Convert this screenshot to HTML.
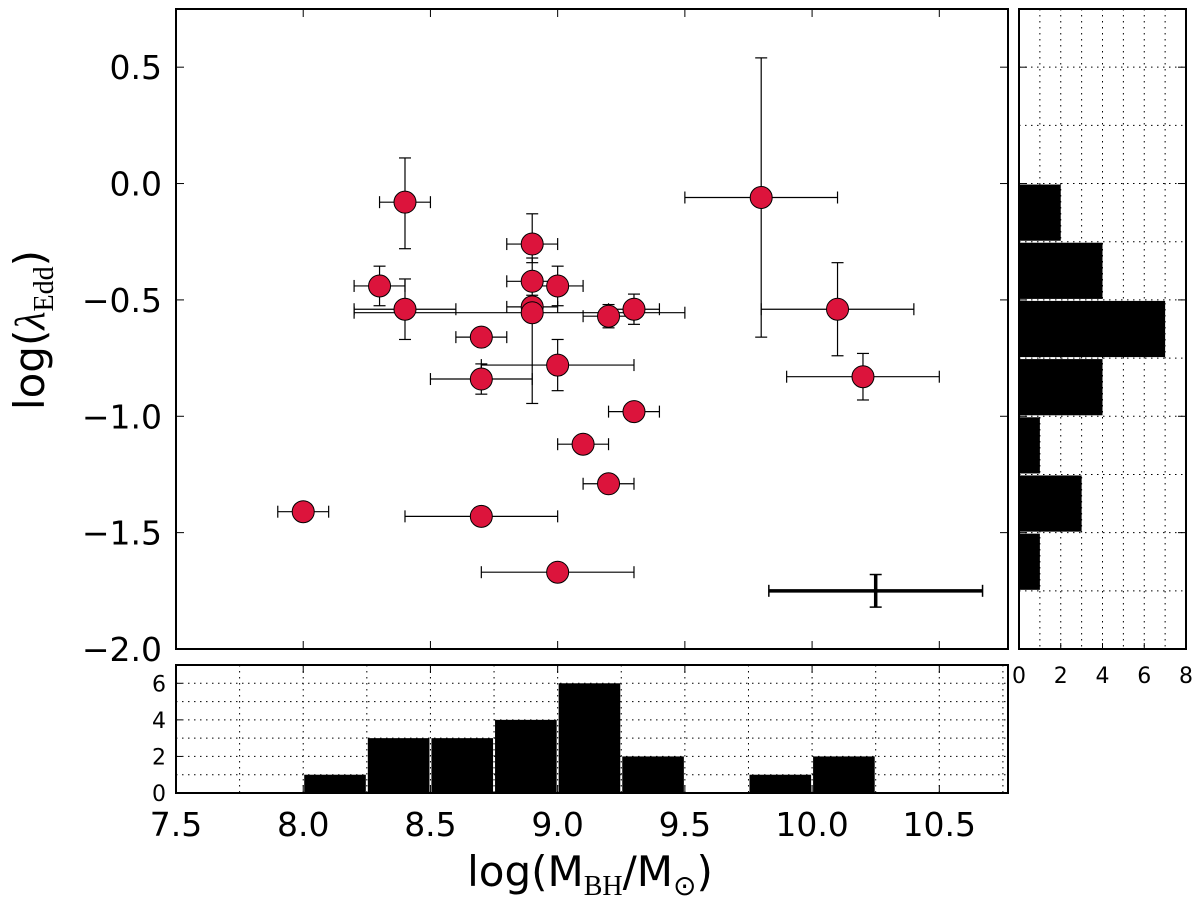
<!DOCTYPE html>
<html><head><meta charset="utf-8"><style>
body{margin:0;background:#fff;}
svg{display:block;font-family:"DejaVu Sans","Liberation Sans",sans-serif;}
</style></head><body>
<svg id="chart" width="1200" height="907" viewBox="0 0 1200 907"></svg>
<script>
// ---- data ----
const massValues = [8.4, 8.3, 8.4, 8.9, 8.9, 9.0, 8.9, 8.9, 8.7, 9.0, 8.7, 9.2, 9.3, 9.3, 9.1, 9.2, 8.0, 8.7, 9.0, 9.8, 10.1, 10.2];
const eddValues  = [-0.08, -0.44, -0.54, -0.26, -0.42, -0.44, -0.53, -0.555, -0.66, -0.78, -0.84, -0.57, -0.54, -0.98, -1.12, -1.29, -1.41, -1.43, -1.67, -0.06, -0.54, -0.83];
const massErrLo  = [0.1, 0.1, 0.2, 0.1, 0.1, 0.1, 0.1, 0.7, 0.1, 0.3, 0.2, 0.1, 0.1, 0.1, 0.1, 0.1, 0.1, 0.3, 0.3, 0.3, 0.3, 0.3];
const massErrHi  = [0.1, 0.1, 0.2, 0.1, 0.1, 0.1, 0.1, 0.6, 0.1, 0.3, 0.2, 0.1, 0.1, 0.1, 0.1, 0.1, 0.1, 0.3, 0.3, 0.3, 0.3, 0.3];
const eddErrLo   = [0.20, 0.085, 0.13, 0.08, 0.1, 0.085, 0.05, 0.39, 0.03, 0.11, 0.065, 0.05, 0.065, 0, 0, 0, 0, 0, 0, 0.6, 0.2, 0.1];
const eddErrHi   = [0.19, 0.085, 0.13, 0.13, 0.1, 0.085, 0.05, 0.05, 0.03, 0.11, 0.065, 0.05, 0.065, 0, 0, 0, 0, 0, 0, 0.6, 0.2, 0.1];
const typicalErr = [10.25, -1.75, 0.42, 0.07];
const massBinStarts = [8.0, 8.25, 8.5, 8.75, 9.0, 9.25, 9.5, 9.75, 10.0];
const massCounts    = [1, 3, 3, 4, 6, 2, 0, 1, 2];
const eddBinStarts  = [0.0, -0.25, -0.5, -0.75, -1.0, -1.25, -1.5];
const eddCounts     = [2, 4, 7, 4, 1, 3, 1];
const xTicks = [7.5, 8.0, 8.5, 9.0, 9.5, 10.0, 10.5];
const yTicks = [0.5, 0.0, -0.5, -1.0, -1.5, -2.0];
const hxTicks = [0, 2, 4, 6, 8];
const hyTicks = [0, 2, 4, 6];

// ---- layout ----
const M = {l:176, r:1008, t:9, b:649};
const X0=7.5, X1=10.77, Y0=-2.0, Y1=0.75;
const BH = {t:665, b:793, max:7};
const RH = {l:1019, r:1186, max:8};
const sx = v => M.l + (v - X0) / (X1 - X0) * (M.r - M.l);
const sy = v => M.b - (v - Y0) / (Y1 - Y0) * (M.b - M.t);
const bhy = c => BH.b - c / BH.max * (BH.b - BH.t);
const rhx = c => RH.l + c / RH.max * (RH.r - RH.l);

const svg = document.getElementById('chart');
const NS = 'http://www.w3.org/2000/svg';
function mk(tag, attrs, parent) {
  const e = document.createElementNS(NS, tag);
  for (const k in attrs) e.setAttribute(k, attrs[k]);
  (parent || svg).appendChild(e);
  return e;
}
const minus = s => s.replace('-', '\u2212');

// ===== main panel =====
const gMain = mk('g', {});


mk('rect', {x:M.l, y:M.t, width:M.r-M.l, height:M.b-M.t, fill:'#fff'}, gMain);

for (let i = 0; i < massValues.length; i++) {
  const g = mk('g', {stroke:'#000', 'stroke-width':1.2, fill:'none'}, gMain);
  
  
  const cx = sx(massValues[i]), cy = sy(eddValues[i]);
  const xl = sx(massValues[i] - massErrLo[i]), xr = sx(massValues[i] + massErrHi[i]);
  mk('line', {x1:xl, y1:cy, x2:xr, y2:cy}, g);
  mk('line', {x1:xl, y1:cy-6, x2:xl, y2:cy+6}, g);
  mk('line', {x1:xr, y1:cy-6, x2:xr, y2:cy+6}, g);
  if (eddErrLo[i] > 0 || eddErrHi[i] > 0) {
    const yt = sy(eddValues[i] + eddErrHi[i]), yb = sy(eddValues[i] - eddErrLo[i]);
    mk('line', {x1:cx, y1:yt, x2:cx, y2:yb}, g);
    mk('line', {x1:cx-6, y1:yt, x2:cx+6, y2:yt}, g);
    mk('line', {x1:cx-6, y1:yb, x2:cx+6, y2:yb}, g);
  }
}
for (let i = 0; i < massValues.length; i++) {
  const c = mk('circle', {cx:sx(massValues[i]), cy:sy(eddValues[i]), r:11, fill:'#DC143C', stroke:'#000', 'stroke-width':1}, gMain);
  
  
}
{
  const g = mk('g', {stroke:'#000', 'stroke-width':3.5}, gMain);
  
  
  const cx = sx(typicalErr[0]), cy = sy(typicalErr[1]);
  const xl = sx(typicalErr[0]-typicalErr[2]), xr = sx(typicalErr[0]+typicalErr[2]);
  const yt = sy(typicalErr[1]+typicalErr[3]), yb = sy(typicalErr[1]-typicalErr[3]);
  mk('line', {x1:xl, y1:cy, x2:xr, y2:cy}, g);
  mk('line', {x1:xl, y1:cy-6, x2:xl, y2:cy+6, 'stroke-width':1.5}, g);
  mk('line', {x1:xr, y1:cy-6, x2:xr, y2:cy+6, 'stroke-width':1.5}, g);
  mk('line', {x1:cx, y1:yt, x2:cx, y2:yb}, g);
  mk('line', {x1:cx-6, y1:yt, x2:cx+6, y2:yt, 'stroke-width':1.5}, g);
  mk('line', {x1:cx-6, y1:yb, x2:cx+6, y2:yb, 'stroke-width':1.5}, g);
}
xTicks.forEach(v => {
  const x = sx(v);
  mk('line', {x1:x, y1:M.b, x2:x, y2:M.b-8, stroke:'#000', 'stroke-width':1}, gMain);
  mk('line', {x1:x, y1:M.t, x2:x, y2:M.t+8, stroke:'#000', 'stroke-width':1}, gMain);
});
yTicks.forEach(v => {
  const y = sy(v);
  mk('line', {x1:M.l, y1:y, x2:M.l+8, y2:y, stroke:'#000', 'stroke-width':1}, gMain);
  mk('line', {x1:M.r, y1:y, x2:M.r-8, y2:y, stroke:'#000', 'stroke-width':1}, gMain);
  const t = mk('text', {x:M.l-14, y:y+12, 'text-anchor':'end', 'font-size':33}, gMain);
  t.textContent = minus(v.toFixed(1));
  
  
});
mk('rect', {x:M.l, y:M.t, width:M.r-M.l, height:M.b-M.t, fill:'none', stroke:'#000', 'stroke-width':2}, gMain);

const yt = mk('text', {x:0, y:0, transform:'translate(44,330) rotate(-90)', 'text-anchor':'middle', 'font-size':42});


yt.innerHTML = 'log(<tspan font-family="Liberation Serif, serif" font-style="italic">λ</tspan><tspan font-family="Liberation Serif, serif" font-size="28" dy="9">Edd</tspan><tspan dy="-9">)</tspan>';

// ===== bottom histogram =====
const gB = mk('g', {});


for (let c = 1; c <= 6; c++) mk('line', {x1:M.l, y1:bhy(c), x2:M.r, y2:bhy(c), stroke:'#000', 'stroke-width':1, 'stroke-dasharray':'1.5,4.5'}, gB);
for (let v = 7.75; v < X1; v += 0.25) mk('line', {x1:sx(v), y1:BH.t, x2:sx(v), y2:BH.b, stroke:'#000', 'stroke-width':1, 'stroke-dasharray':'1.5,4.5'}, gB);
massBinStarts.forEach((s, i) => {
  if (massCounts[i] <= 0) return;
  const r = mk('rect', {x:sx(s)+1, y:bhy(massCounts[i]), width:sx(s+0.25)-sx(s)-2, height:BH.b-bhy(massCounts[i]), fill:'#000'}, gB);
  
  
});
xTicks.forEach(v => {
  const x = sx(v);
  mk('line', {x1:x, y1:BH.b, x2:x, y2:BH.b-8, stroke:'#000'}, gB);
  mk('line', {x1:x, y1:BH.t, x2:x, y2:BH.t+8, stroke:'#000'}, gB);
  const t = mk('text', {x:x, y:836, 'text-anchor':'middle', 'font-size':33}, gB);
  t.textContent = v.toFixed(1);
  
  
});
hyTicks.forEach(v => {
  const y = bhy(v);
  mk('line', {x1:M.l, y1:y, x2:M.l+6, y2:y, stroke:'#000'}, gB);
  const t = mk('text', {x:M.l-10, y:y+8, 'text-anchor':'end', 'font-size':22}, gB);
  t.textContent = v;
  
  
});
mk('rect', {x:M.l, y:BH.t, width:M.r-M.l, height:BH.b-BH.t, fill:'none', stroke:'#000', 'stroke-width':2}, gB);

const xt = mk('text', {x:590, y:886, 'text-anchor':'middle', 'font-size':42});


xt.innerHTML = 'log(M<tspan font-family="Liberation Serif, serif" font-size="28" dy="9">BH</tspan><tspan dy="-9">/M</tspan><tspan font-size="28" dy="9">⊙</tspan><tspan dy="-9">)</tspan>';

// ===== right histogram =====
const gR = mk('g', {});


for (let c = 1; c <= 7; c++) mk('line', {x1:rhx(c), y1:M.t, x2:rhx(c), y2:M.b, stroke:'#000', 'stroke-width':1, 'stroke-dasharray':'1.5,4.5'}, gR);
for (let v = -1.75; v < Y1; v += 0.25) mk('line', {x1:RH.l, y1:sy(v), x2:RH.r, y2:sy(v), stroke:'#000', 'stroke-width':1, 'stroke-dasharray':'1.5,4.5'}, gR);
eddBinStarts.forEach((s, i) => {
  if (eddCounts[i] <= 0) return;
  const r = mk('rect', {x:RH.l, y:sy(s)+1, width:rhx(eddCounts[i])-RH.l, height:sy(s-0.25)-sy(s)-2, fill:'#000'}, gR);
  
  
});
yTicks.forEach(v => {
  const y = sy(v);
  mk('line', {x1:RH.l, y1:y, x2:RH.l+8, y2:y, stroke:'#000'}, gR);
  mk('line', {x1:RH.r, y1:y, x2:RH.r-8, y2:y, stroke:'#000'}, gR);
});
hxTicks.forEach(v => {
  const x = rhx(v);
  mk('line', {x1:x, y1:M.b, x2:x, y2:M.b-6, stroke:'#000'}, gR);
  const t = mk('text', {x:x, y:683, 'text-anchor':'middle', 'font-size':22}, gR);
  t.textContent = v;
  
  
});
mk('rect', {x:RH.l, y:M.t, width:RH.r-RH.l, height:M.b-M.t, fill:'none', stroke:'#000', 'stroke-width':2}, gR);
</script>
</body></html>
